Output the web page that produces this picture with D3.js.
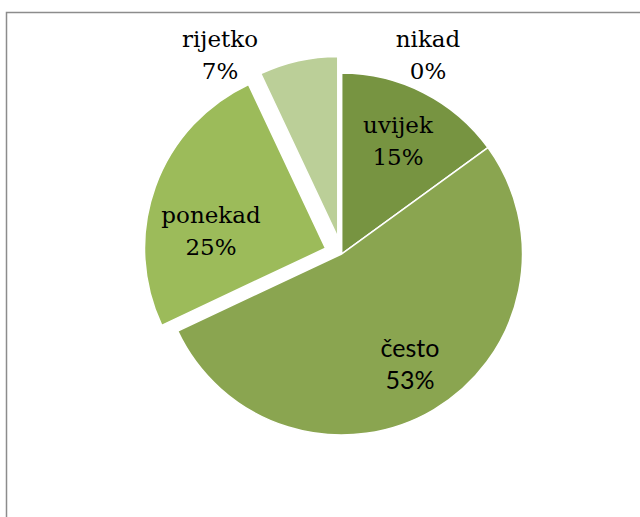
<!DOCTYPE html>
<html>
<head>
<meta charset="utf-8">
<script src="https://cdn.jsdelivr.net/npm/d3@7"></script>
<style>
  html, body { margin: 0; padding: 0; background: #fff; }
  svg { display: block; }
</style>
</head>
<body>
<svg id="chart" width="640" height="517"></svg>
<script>
// ---- data ----
const categories = ["uvijek", "često", "ponekad", "rijetko", "nikad"];
const values = [15, 53, 25, 7, 0];
const percentLabels = ["15%", "53%", "25%", "7%", "0%"];

// ---- styling / layout ----
const colors = ["#779441", "#8aa550", "#9cbb5a", "#bbcf98", "#c3d69b"];
const exploded = [false, false, true, true, false];
const labelFonts = ["serif", "sans", "serif", "serif", "serif"];
// label anchor centres (layout)
const labelAnchors = [[398, 133], [410, 357], [211, 223], [220, 47], [428, 47]];

const W = 640, H = 517;
const cx = 341.5, cy = 254, R = 181, explodeDist = 17;

const svg = d3.select("#chart");

// frame
svg.append("rect")
  .attr("x", 6.5).attr("y", 12.5)
  .attr("width", 700).attr("height", 600)
  .attr("fill", "#fff")
  .attr("stroke", "#8c8c8c").attr("stroke-width", 1.5);

const pie = d3.pie().sort(null).value(d => d)(values);
const arc = d3.arc().innerRadius(0).outerRadius(R);

const g = svg.append("g").attr("transform", `translate(${cx},${cy})`);

g.selectAll("path.slice")
  .data(pie)
  .join("path")
  .attr("class", "slice")
  .attr("d", arc)
  .attr("fill", (d, i) => colors[i])
  .attr("stroke", "#fff")
  .attr("stroke-width", 1.5)
  .attr("stroke-linejoin", "miter")
  .attr("transform", (d, i) => {
    if (!exploded[i]) return null;
    const a = (d.startAngle + d.endAngle) / 2;
    return `translate(${explodeDist * Math.sin(a)},${-explodeDist * Math.cos(a)})`;
  });

// labels
const lineGap = 32;
const lab = svg.selectAll("text.lbl")
  .data(pie)
  .join("text")
  .attr("class", "lbl")
  .attr("text-anchor", "middle")
  .attr("fill", "#000")
  .style("font-family", (d, i) => labelFonts[i] === "sans" ? "Lato, 'Open Sans', sans-serif" : "'DejaVu Serif', serif")
  .style("font-size", (d, i) => labelFonts[i] === "sans" ? "25px" : "23px");

lab.append("tspan")
  .attr("x", (d, i) => labelAnchors[i][0])
  .attr("y", (d, i) => labelAnchors[i][1])
  .text((d, i) => categories[i]);
lab.append("tspan")
  .attr("x", (d, i) => labelAnchors[i][0])
  .attr("y", (d, i) => labelAnchors[i][1] + lineGap)
  .text((d, i) => percentLabels[i]);
</script>
</body>
</html>
